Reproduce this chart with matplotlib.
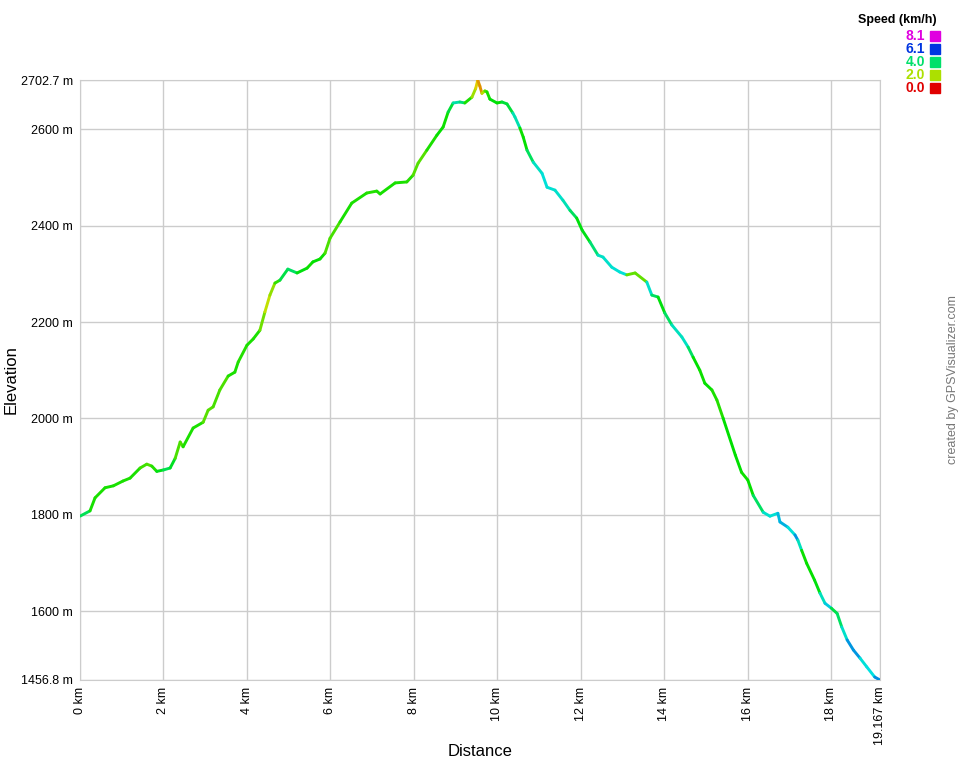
import numpy as np
import matplotlib
matplotlib.use("Agg")
import matplotlib.pyplot as plt
from matplotlib.collections import LineCollection
from matplotlib.colors import ListedColormap, Normalize, hsv_to_rgb
from matplotlib.patches import Rectangle

plt.rcParams["font.family"] = ["Liberation Sans", "DejaVu Sans"]

# track profile: distance (km), elevation (m), speed (km/h)
dist = [0.0, 0.24, 0.36, 0.6, 0.8, 1.03, 1.2, 1.44, 1.6, 1.72, 1.84, 2.0, 2.16, 2.28, 2.4, 2.47,
        2.71, 2.95, 3.07, 3.19, 3.35, 3.55, 3.71, 3.79, 4.0, 4.15, 4.31, 4.43, 4.55, 4.67, 4.79,
        4.98, 5.2, 5.44, 5.58, 5.75, 5.87, 5.99, 6.23, 6.51, 6.87, 7.11, 7.19, 7.55, 7.83, 7.98,
        8.1, 8.31, 8.55, 8.7, 8.82, 8.94, 9.1, 9.22, 9.39, 9.48, 9.53, 9.58, 9.63, 9.7, 9.75,
        9.82, 9.99, 10.11, 10.23, 10.37, 10.42, 10.54, 10.62, 10.71, 10.86, 11.07, 11.19, 11.38,
        11.57, 11.74, 11.9, 12.03, 12.22, 12.41, 12.53, 12.74, 12.93, 13.1, 13.3, 13.58, 13.7,
        13.85, 14.01, 14.18, 14.42, 14.57, 14.69, 14.85, 14.97, 15.14, 15.26, 15.41, 15.7,
        15.85, 16.0, 16.13, 16.37, 16.53, 16.72, 16.77, 16.96, 17.13, 17.2, 17.29, 17.41, 17.6,
        17.73, 17.85, 18.0, 18.14, 18.25, 18.38, 18.53, 18.69, 18.85, 19.04, 19.167]
elev = [1797, 1808, 1835, 1856, 1860, 1870, 1876, 1897, 1905, 1901, 1890, 1893, 1897, 1917,
        1951, 1941, 1980, 1992, 2017, 2024, 2059, 2088, 2096, 2117, 2152, 2165, 2183, 2221,
        2256, 2281, 2287, 2310, 2302, 2312, 2325, 2331, 2343, 2374, 2408, 2447, 2468, 2472,
        2466, 2489, 2491, 2505, 2530, 2557, 2588, 2605, 2636, 2655, 2657, 2655, 2667, 2685,
        2702.7, 2690, 2675, 2680, 2678, 2663, 2655, 2657, 2653, 2634, 2626, 2603, 2584, 2557,
        2532, 2509, 2480, 2474, 2453, 2432, 2416, 2391, 2366, 2339, 2335, 2314, 2304, 2298,
        2302, 2283, 2256, 2252, 2219, 2194, 2169, 2148, 2127, 2100, 2073, 2059, 2038, 2000,
        1924, 1888, 1872, 1840, 1805, 1797, 1803, 1785, 1774, 1758, 1747, 1726, 1699, 1664,
        1637, 1616, 1606, 1595, 1567, 1540, 1519, 1502, 1484, 1463, 1456.8]
speed = [4.5, 3.2, 3.0, 3.1, 3.1, 3.0, 3.1, 3.0, 2.6, 2.8, 3.2, 3.6, 4.0, 3.0, 2.4, 3.0,
         3.1, 3.0, 2.2, 3.1, 2.4, 3.0, 3.1, 3.0, 3.0, 3.1, 3.0, 1.9, 1.8, 2.6, 3.2,
         4.3, 3.6, 3.1, 3.2, 3.3, 3.0, 2.4, 3.1, 3.1, 3.0, 3.0, 3.1, 3.1, 3.0, 3.0,
         2.3, 3.0, 3.1, 3.3, 3.0, 4.3, 4.6, 3.5, 2.6, 1.6, 1.4, 0.8, 1.3, 2.6, 2.8,
         3.4, 3.2, 3.3, 4.0, 3.3, 5.8, 3.2, 3.1, 3.3, 4.5, 4.8, 4.8, 4.7,
         4.7, 4.4, 3.4, 3.3, 3.5, 4.6, 4.7, 4.7, 4.8, 4.8, 0.3, 4.8, 4.6,
         3.3, 3.4, 4.5, 4.7, 4.6, 3.3, 3.2, 3.1, 3.3, 2.8, 3.2, 3.3,
         3.2, 3.1, 3.3, 4.6, 4.8, 4.7, 5.6, 4.8, 4.8, 6.0, 3.2, 3.1, 3.3,
         3.4, 5.8, 4.2, 3.3, 4.6, 4.8, 6.0, 4.8, 4.8, 4.9, 6.0]

y_ticks = [1456.8, 1600, 1800, 2000, 2200, 2400, 2600, 2702.7]
y_tick_labels = ["1456.8 m", "1600 m", "1800 m", "2000 m", "2200 m", "2400 m", "2600 m", "2702.7 m"]
x_ticks = [0, 2, 4, 6, 8, 10, 12, 14, 16, 18, 19.167]
x_tick_labels = ["0 km", "2 km", "4 km", "6 km", "8 km", "10 km", "12 km", "14 km", "16 km", "18 km", "19.167 km"]
legend_values = [8.1, 6.1, 4.0, 2.0, 0.0]

# hue ramp red -> yellow -> green -> cyan -> blue -> magenta
hues = np.linspace(0, 300 / 360, 256)
ramp = hsv_to_rgb(np.column_stack([hues, np.ones_like(hues), np.full_like(hues, 0.88)]))
cmap = ListedColormap(ramp)
norm = Normalize(0, 8.1)

fig = plt.figure(figsize=(9.6, 7.6), dpi=100)
ax = fig.add_axes([80 / 960, 1 - 680 / 760, 800 / 960, 600 / 760])

pts = np.column_stack([dist, elev]).reshape(-1, 1, 2)
segs = np.concatenate([pts[:-1], pts[1:]], axis=1)
seg_speed = (np.array(speed[:-1]) + np.array(speed[1:])) / 2
lc = LineCollection(segs, cmap=cmap, norm=norm, linewidths=2.1, capstyle="round", zorder=3)
lc.set_array(seg_speed)
ax.add_collection(lc)

ax.set_xlim(0, 19.167)
ax.set_ylim(1456.8, 2702.7)
ax.set_xticks(x_ticks)
ax.set_xticklabels(x_tick_labels, rotation=90, fontsize=9)
ax.set_yticks(y_ticks)
ax.set_yticklabels(y_tick_labels, fontsize=9)
ax.tick_params(length=0, pad=5)
ax.grid(True, color="#cccccc", linewidth=1)
for s in ax.spines.values():
    s.set_color("#cccccc")

# axis titles placed like the original
fig.text(480 / 960, 1 - 752 / 760, "Distance", ha="center", va="center", fontsize=12)
fig.text(11 / 960, 380 / 760, "Elevation", ha="center", va="center", rotation=90, fontsize=12)

# speed legend
fig.text(937 / 960, 1 - 20 / 760, "Speed (km/h)", ha="right", va="center", fontsize=9, fontweight="bold")
for i, v in enumerate(legend_values):
    yc = 1 - (36 + 13 * i) / 760
    col = cmap(norm(v))
    fig.text(925 / 960, yc, f"{v:.1f}", ha="right", va="center", fontsize=10, fontweight="bold", color=col)
    fig.add_artist(Rectangle((930 / 960, yc - 5 / 760), 10 / 960, 10 / 760,
                             transform=fig.transFigure, color=col))

fig.text(953 / 960, 380 / 760, "created by GPSVisualizer.com", rotation=90, ha="center", va="center",
         fontsize=9, color="#777777")

fig.savefig("out.png", dpi=100)
